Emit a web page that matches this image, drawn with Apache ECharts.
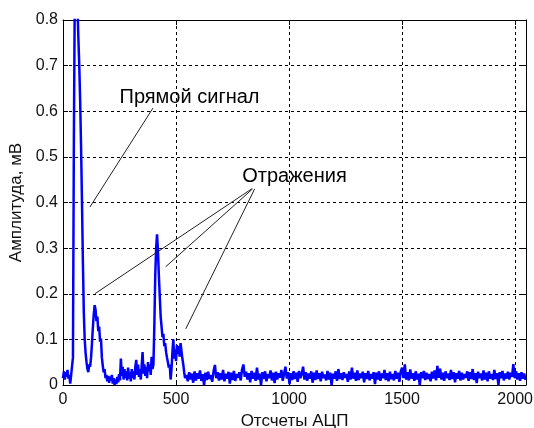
<!DOCTYPE html>
<html>
<head>
<meta charset="utf-8">
<script src="https://cdn.jsdelivr.net/npm/echarts@6/dist/echarts.min.js"></script>
<style>
html,body{margin:0;padding:0;background:#fff;}
#c{width:534px;height:428px;}
</style>
</head>
<body>
<div id="c"></div>
<script>
// Sample indices 0..540, step 4 (amplitude in microvolts, i.e. mV/1000)
const nearStart = 0, nearStep = 4;
const ampNearUV = [
15,30,12,28,18,33,14,22,3,0,5,60,530,850,850,850,830,760,700,620,
520,400,270,160,100,70,50,35,28,45,40,60,90,125,155,175,165,140,150,118,
128,95,102,60,42,28,35,15,22,8,20,5,18,10,22,3,15,0,12,2,
18,6,24,10,58,20,40,12,35,15,30,10,38,14,28,8,35,15,30,12,
40,55,22,45,18,35,12,42,72,25,45,20,40,15,50,30,45,22,62,35,
45,130,240,300,330,295,240,195,150,128,105,112,85,92,72,60,50,38,45,12,
35,72,100,58,78,52,88,68,85,62,92,75,58,45,28,15
];
// Sample indices 546..2046, step 6
const farStart = 546, farStep = 6;
const ampFarUV = [
22,8,28,12,25,5,30,10,26,14,32,9,24,0,27,11,29,13,22,7,
30,44,15,28,10,26,12,33,8,25,14,29,3,27,11,31,9,24,16,28,
10,34,45,18,29,12,26,6,31,14,27,9,38,12,25,0,28,13,30,8,
24,15,32,10,27,4,29,12,26,16,33,9,25,40,14,28,2,26,11,30,
13,27,7,31,15,24,40,12,28,9,25,14,30,5,27,11,32,13,26,8,
29,15,23,10,31,12,27,0,25,14,30,9,35,13,26,11,28,16,24,7,
30,12,38,14,27,9,32,11,25,15,29,6,26,13,31,10,24,14,28,2,
27,12,30,9,25,15,33,11,26,8,29,13,24,10,31,14,27,7,30,38,
15,45,12,28,10,34,14,26,9,30,12,25,0,28,15,31,11,27,13,24,
8,29,14,32,10,42,16,36,12,27,9,30,15,25,11,33,13,28,6,26,
14,31,10,27,12,24,16,30,9,28,13,35,11,26,4,29,15,25,10,32,
12,27,8,30,14,24,11,33,13,26,0,28,15,31,10,25,14,29,12,27,
18,46,15,30,12,26,9,28,14,25,11
];
const xTicks = [0, 500, 1000, 1500, 2000];
const yTicks = [0, 0.1, 0.2, 0.3, 0.4, 0.5, 0.6, 0.7, 0.8];
const xName = 'Отсчеты АЦП';
const yName = 'Амплитуда, мВ';
// Callout labels and their pointer lines, in data coordinates
const labelTexts = ['Прямой сигнал', 'Отражения'];
const labelAnchors = [[250, 0.631], [793, 0.458]];
const pointerLines = [
  [[398, 0.607], [119, 0.390]],
  [[835, 0.430], [141, 0.200]],
  [[839, 0.430], [454, 0.259]],
  [[848, 0.430], [543, 0.123]]
];

const data = [];
ampNearUV.forEach((v, i) => data.push([nearStart + i * nearStep, v / 1000]));
ampFarUV.forEach((v, i) => data.push([farStart + i * farStep, v / 1000]));

const FONT = "'Liberation Sans', Arial, sans-serif";
const chart = echarts.init(document.getElementById('c'), null, {renderer: 'canvas'});
const gridDash = {show: true, lineStyle: {color: '#000', width: 1, type: [3, 3]}};
const axisBase = {
  axisLine: {show: true, onZero: false, lineStyle: {color: '#000', width: 1}},
  axisTick: {show: true, inside: true, length: 5, lineStyle: {color: '#000'}}
};
chart.setOption({
  animation: false,
  backgroundColor: '#fff',
  grid: {left: 63, right: 8, top: 20, bottom: 43, containLabel: false, outerBoundsMode: 'none'},
  xAxis: [
    Object.assign({}, axisBase, {
      type: 'value', position: 'bottom', min: 0, max: 2048, interval: 500,
      name: xName, nameLocation: 'middle', nameGap: 19,
      nameTextStyle: {fontFamily: FONT, fontSize: 17, color: '#111'},
      axisLabel: {fontFamily: FONT, fontSize: 16, color: '#111', margin: 7,
        showMaxLabel: true,
        formatter: v => (xTicks.indexOf(v) >= 0 ? String(v) : '')},
      splitLine: gridDash
    }),
    Object.assign({}, axisBase, {
      type: 'value', position: 'top', min: 0, max: 2048, interval: 500,
      axisLabel: {show: false}, splitLine: {show: false}
    })
  ],
  yAxis: [
    Object.assign({}, axisBase, {
      type: 'value', position: 'left', min: 0, max: 0.8, interval: 0.1,
      name: yName, nameLocation: 'middle', nameGap: 34,
      nameTextStyle: {fontFamily: FONT, fontSize: 17, color: '#111'},
      axisLabel: {fontFamily: FONT, fontSize: 16, color: '#111', margin: 5,
        formatter: v => { const t = yTicks.find(k => Math.abs(k - v) < 1e-9); return t === undefined ? '' : String(t); }},
      splitLine: gridDash
    }),
    Object.assign({}, axisBase, {
      type: 'value', position: 'right', min: 0, max: 0.8, interval: 0.1,
      axisLabel: {show: false}, splitLine: {show: false}
    })
  ],
  series: [{
    type: 'line',
    data: data,
    showSymbol: false,
    symbol: 'none',
    clip: true,
    lineStyle: {color: '#0000ff', width: 2.5},
    markLine: {
      silent: true,
      symbol: ['none', 'none'],
      label: {show: false},
      lineStyle: {color: '#222', width: 1, type: 'solid'},
      data: pointerLines.map(p => [{coord: p[0]}, {coord: p[1]}])
    }
  }]
});

const graphics = labelTexts.map((t, i) => {
  const p = chart.convertToPixel({xAxisIndex: 0, yAxisIndex: 0}, labelAnchors[i]);
  return {
    type: 'text', x: p[0], y: p[1], z: 100,
    style: {text: t, fill: '#000', font: "20px " + FONT, textAlign: 'left', textVerticalAlign: 'middle'}
  };
});
chart.setOption({graphic: graphics});
</script>
</body>
</html>
